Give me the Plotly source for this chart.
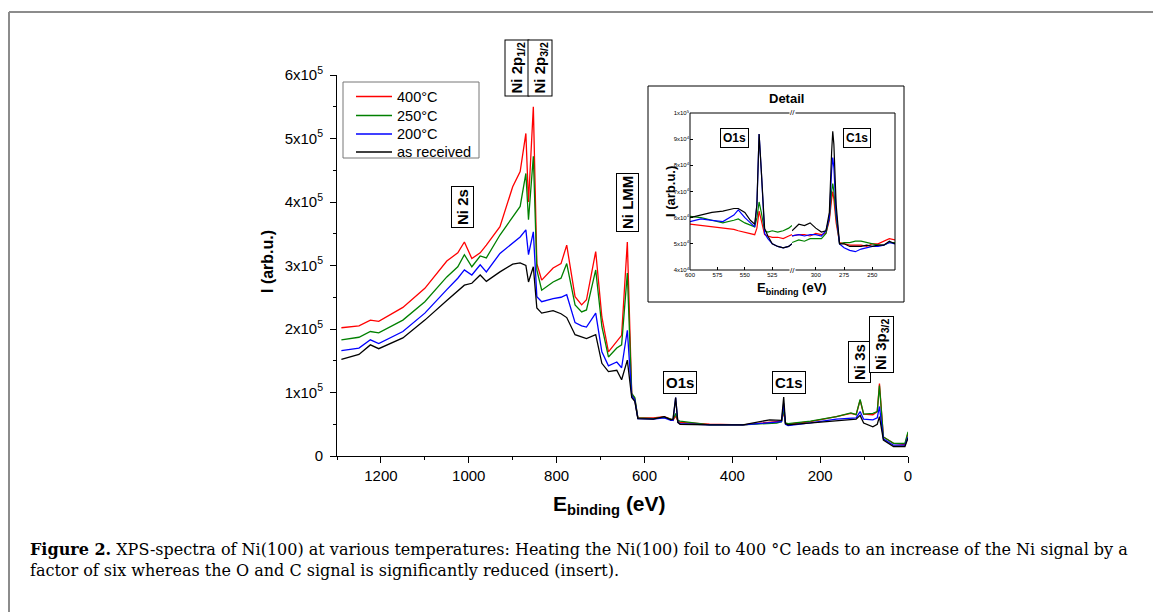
import plotly.graph_objects as go

# ---------------- data (main spectrum, intensity in units of 1e5) ----------------
energy_main = [1290, 1250, 1224, 1205, 1150, 1100, 1050, 1025, 1010, 993, 974, 960, 929, 900, 883,
               870, 864, 853, 845, 834, 808, 790, 777, 758, 743, 732, 711, 697, 682, 663, 652, 639,
               629, 622, 615, 580, 555, 540, 535, 529, 524, 519, 452, 376, 315, 299, 288, 283, 279,
               273, 222, 163, 130, 118, 109, 101, 80, 70, 65, 56, 33, 7, 0]
i_400 = [2.02, 2.05, 2.14, 2.12, 2.34, 2.64, 3.07, 3.2, 3.37, 3.11, 3.2, 3.32, 3.61, 4.24, 4.48,
         5.08, 4.0, 5.5, 3.03, 2.77, 2.96, 3.03, 3.32, 2.51, 2.38, 2.46, 3.22, 2.19, 1.64, 1.8, 1.9, 3.37,
         0.99, 0.9, 0.6, 0.6, 0.62, 0.58, 0.56, 0.63, 0.55, 0.53, 0.5, 0.49, 0.53, 0.54, 0.55, 0.7, 0.52,
         0.5, 0.54, 0.62, 0.67, 0.65, 0.88, 0.66, 0.65, 0.7, 1.14, 0.3, 0.2, 0.18, 0.36]
i_250 = [1.83, 1.87, 1.96, 1.94, 2.14, 2.43, 2.82, 2.98, 3.17, 2.98, 3.15, 3.12, 3.48, 3.77, 3.93,
         4.45, 3.72, 4.72, 2.93, 2.61, 2.74, 2.8, 3.03, 2.38, 2.27, 2.3, 2.93, 2.04, 1.56, 1.7, 1.75, 2.88,
         0.98, 0.92, 0.6, 0.59, 0.61, 0.58, 0.57, 0.67, 0.56, 0.55, 0.49, 0.49, 0.52, 0.52, 0.54, 0.73, 0.52,
         0.51, 0.55, 0.62, 0.68, 0.65, 0.89, 0.66, 0.67, 0.7, 1.11, 0.3, 0.2, 0.2, 0.38]
i_200 = [1.66, 1.7, 1.83, 1.77, 1.96, 2.25, 2.62, 2.8, 2.93, 2.85, 3.01, 2.9, 3.19, 3.35, 3.45,
         3.56, 3.17, 3.53, 2.51, 2.43, 2.48, 2.5, 2.54, 2.1, 2.05, 2.03, 2.25, 1.64, 1.42, 1.48, 1.39, 1.98,
         0.95, 0.88, 0.59, 0.58, 0.6, 0.56, 0.56, 0.92, 0.53, 0.51, 0.49, 0.49, 0.53, 0.54, 0.54, 0.83, 0.5,
         0.48, 0.52, 0.58, 0.6, 0.6, 0.7, 0.58, 0.57, 0.6, 0.78, 0.27, 0.17, 0.17, 0.3]
i_rec = [1.52, 1.6, 1.75, 1.69, 1.86, 2.14, 2.45, 2.6, 2.69, 2.72, 2.85, 2.75, 2.9, 3.02, 3.04,
         3.0, 2.74, 2.98, 2.33, 2.25, 2.29, 2.24, 2.18, 1.91, 1.87, 1.85, 1.91, 1.46, 1.33, 1.35, 1.2, 1.51,
         0.92, 0.86, 0.59, 0.58, 0.62, 0.57, 0.58, 0.92, 0.53, 0.5, 0.49, 0.49, 0.57, 0.56, 0.56, 0.93, 0.51,
         0.49, 0.52, 0.56, 0.57, 0.58, 0.64, 0.52, 0.46, 0.5, 0.62, 0.25, 0.15, 0.15, 0.28]

# ---------------- data (inset detail, intensity in units of 1e4) ----------------
energy_o = [600, 590, 580, 570, 560, 556, 550, 545, 541, 539, 537, 535, 532, 529, 525, 520, 515, 510, 507]
o_400 = [5.75, 5.7, 5.65, 5.6, 5.55, 5.5, 5.45, 5.4, 5.35, 5.6, 6.25, 5.9, 5.35, 5.3, 5.25, 5.25, 5.2, 5.3, 5.35]
o_250 = [6.05, 6.0, 5.9, 5.8, 5.9, 5.95, 5.8, 5.7, 5.65, 6.0, 6.6, 6.2, 5.5, 5.45, 5.5, 5.45, 5.5, 5.6, 5.7]
o_200 = [5.85, 5.95, 5.9, 5.85, 6.1, 6.3, 6.0, 5.8, 5.65, 6.5, 9.2, 7.8, 5.4, 5.2, 5.0, 4.9, 4.85, 4.9, 5.0]
o_rec = [6.0, 6.1, 6.2, 6.25, 6.35, 6.35, 6.2, 5.9, 5.75, 6.5, 9.2, 7.8, 5.6, 5.3, 5.0, 4.9, 4.85, 4.9, 5.0]

energy_c = [321, 315, 310, 305, 300, 295, 291, 288, 286, 285, 284, 282, 279, 275, 270, 265, 260, 255,
            250, 245, 240, 235, 230]
c_400 = [5.3, 5.35, 5.35, 5.3, 5.4, 5.35, 5.4, 5.9, 6.7, 7.0, 6.7, 5.8, 5.05, 5.0, 4.95, 4.95, 4.95, 4.9,
         5.0, 5.0, 5.1, 5.2, 5.15]
c_250 = [5.05, 5.15, 5.1, 5.2, 5.2, 5.2, 5.4, 6.0, 7.0, 7.3, 7.0, 6.0, 5.0, 5.05, 5.05, 5.1, 5.1, 5.05,
         5.0, 4.95, 4.95, 5.05, 5.05]
c_200 = [5.3, 5.35, 5.3, 5.35, 5.35, 5.3, 5.5, 6.0, 7.8, 8.3, 7.9, 6.2, 5.0, 4.85, 4.75, 4.7, 4.8, 4.85,
         4.9, 4.9, 4.95, 5.05, 5.0]
c_rec = [5.5, 5.75, 5.7, 5.8, 5.6, 5.45, 5.5, 6.2, 8.5, 9.3, 8.8, 6.5, 5.0, 5.0, 4.9, 4.9, 4.9, 4.95,
         4.9, 4.95, 4.95, 5.1, 5.0]

series_names = ["400°C", "250°C", "200°C", "as received"]
series_colors = ["#ff0000", "#008000", "#0000ff", "#000000"]
main_series = [i_400, i_250, i_200, i_rec]
o_series = [o_400, o_250, o_200, o_rec]
c_series = [c_400, c_250, c_200, c_rec]

main_xticks = [1200, 1000, 800, 600, 400, 200, 0]
main_yticks = [0, 1e5, 2e5, 3e5, 4e5, 5e5, 6e5]
main_yticktext = ["0", "1x10<sup>5</sup>", "2x10<sup>5</sup>", "3x10<sup>5</sup>",
                  "4x10<sup>5</sup>", "5x10<sup>5</sup>", "6x10<sup>5</sup>"]
inset_yticks = [4e4, 5e4, 6e4, 7e4, 8e4, 9e4, 1e5]
inset_yticktext = ["4x10<sup>4</sup>", "5x10<sup>4</sup>", "6x10<sup>4</sup>", "7x10<sup>4</sup>",
                   "8x10<sup>4</sup>", "9x10<sup>4</sup>", "1x10<sup>5</sup>"]

# ---------------- geometry helpers (pixels -> paper) ----------------
W, H = 1153, 612
L, R, T, B = 337, 908, 75, 456


def px(x):
    return (x - L) / (R - L)


def py(y):
    return (B - y) / (B - T)


FONT = "Arial, Liberation Sans, sans-serif"

fig = go.Figure()

for name, col, vals in zip(series_names, series_colors, main_series):
    fig.add_trace(go.Scatter(x=energy_main, y=[v * 1e5 for v in vals], mode="lines", name=name,
                             showlegend=False, line=dict(color=col, width=1.3), xaxis="x", yaxis="y"))

for col, vals in zip(series_colors, o_series):
    fig.add_trace(go.Scatter(x=energy_o, y=[v * 1e4 for v in vals], mode="lines", showlegend=False,
                             line=dict(color=col, width=1.2), xaxis="x3", yaxis="y3"))
for col, vals in zip(series_colors, c_series):
    fig.add_trace(go.Scatter(x=energy_c, y=[v * 1e4 for v in vals], mode="lines", showlegend=False,
                             line=dict(color=col, width=1.2), xaxis="x4", yaxis="y3"))

x_break = px(792)
inset_x0, inset_x1 = px(690), px(895)
inset_y0, inset_y1 = py(270), py(113)

fig.update_layout(
    width=W, height=H,
    margin=dict(l=L, r=W - R, t=T, b=H - B),
    paper_bgcolor="white", plot_bgcolor="white",
    font=dict(family=FONT, color="black"),
    showlegend=False,
    xaxis=dict(domain=[0, 1], range=[1300, 0], anchor="y", tickvals=main_xticks,
               ticks="outside", ticklen=6, tickwidth=1, tickcolor="black",
               minor=dict(dtick=100, ticks="outside", ticklen=3, tickcolor="black"),
               showline=True, linecolor="black", linewidth=1, showgrid=False, zeroline=False,
               tickfont=dict(size=15)),
    yaxis=dict(domain=[0, 1], range=[0, 6e5], anchor="x", tickvals=main_yticks,
               ticktext=main_yticktext, ticks="outside", ticklen=6, tickwidth=1, tickcolor="black",
               minor=dict(dtick=5e4, ticks="outside", ticklen=3, tickcolor="black"),
               showline=True, linecolor="black", linewidth=1, showgrid=False, zeroline=False,
               tickfont=dict(size=15), ticklabelstandoff=4),
    xaxis2=dict(overlaying="x", side="top", anchor="y", range=[1300, 0], dtick=100, tick0=0,
                ticks="inside", ticklen=5, tickcolor="black", showticklabels=False,
                showline=True, linecolor="black", linewidth=1, showgrid=False, zeroline=False),
    yaxis2=dict(overlaying="y", side="right", anchor="x", range=[0, 6e5], dtick=5e4, tick0=0,
                ticks="inside", ticklen=5, tickcolor="black", showticklabels=False,
                showline=True, linecolor="black", linewidth=1, showgrid=False, zeroline=False),
    xaxis3=dict(domain=[inset_x0, x_break], range=[600, 507], anchor="y3",
                tickvals=[600, 575, 550, 525], ticks="inside", ticklen=3, tickcolor="black",
                showgrid=False, zeroline=False, showline=False, tickfont=dict(size=6)),
    xaxis4=dict(domain=[x_break, inset_x1], range=[321, 230], anchor="y3",
                tickvals=[300, 275, 250], ticks="inside", ticklen=3, tickcolor="black",
                showgrid=False, zeroline=False, showline=False, tickfont=dict(size=6)),
    yaxis3=dict(domain=[inset_y0, inset_y1], range=[4e4, 1e5], anchor="x3",
                tickvals=inset_yticks, ticktext=inset_yticktext, ticks="inside", ticklen=3,
                tickcolor="black", showgrid=False, zeroline=False, showline=False,
                tickfont=dict(size=6)),
)

shapes = [
    # inset plot frame
    dict(type="rect", xref="paper", yref="paper", x0=inset_x0, x1=inset_x1, y0=inset_y0, y1=inset_y1,
         line=dict(color="black", width=1)),
    # inset outer box
    dict(type="rect", xref="paper", yref="paper", x0=px(648), x1=px(904), y0=py(302), y1=py(86),
         line=dict(color="black", width=1)),
    # legend box
    dict(type="rect", xref="paper", yref="paper", x0=px(343), x1=px(479), y0=py(158), y1=py(82),
         line=dict(color="#777777", width=1), fillcolor="white"),
    # page frame (gray)
    dict(type="line", xref="paper", yref="paper", x0=px(9), x1=px(1160), y0=py(12), y1=py(12),
         line=dict(color="#8c8c8c", width=2)),
    dict(type="line", xref="paper", yref="paper", x0=px(9), x1=px(9), y0=py(12), y1=py(620),
         line=dict(color="#8c8c8c", width=2)),
]

ann = []

# custom legend (line samples + labels)
legend_rows = [96.5, 115.5, 134, 152]
for name, col, yrow in zip(series_names, series_colors, legend_rows):
    shapes.append(dict(type="line", xref="paper", yref="paper", x0=px(356), x1=px(392),
                       y0=py(yrow), y1=py(yrow), line=dict(color=col, width=1.3)))
    ann.append(dict(text=name, x=px(395), y=py(yrow), xref="paper", yref="paper", showarrow=False,
                    font=dict(size=14.5, family=FONT), xanchor="left", yanchor="middle"))

fig.update_layout(shapes=shapes)


def box_label(text, x, y, size=15, angle=-90):
    ann.append(dict(text="<b>" + text + "</b>", x=px(x), y=py(y), xref="paper", yref="paper",
                    showarrow=False, textangle=angle, font=dict(size=size, family=FONT),
                    bordercolor="black", borderwidth=1, borderpad=2, bgcolor="white",
                    xanchor="center", yanchor="middle"))


box_label("Ni 2p<sub>1/2</sub>", 517.5, 68)
box_label("Ni 2p<sub>3/2</sub>", 540.5, 68)
box_label("Ni 2s", 462.5, 207.5)
box_label("Ni LMM", 627, 203)
box_label("O1s", 680, 382, angle=0)
box_label("C1s", 789, 382, angle=0)
box_label("Ni 3s", 859, 362)
box_label("Ni 3p<sub>3/2</sub>", 881, 345)
box_label("O1s", 734, 138, size=12, angle=0)
box_label("C1s", 857, 138, size=12, angle=0)

# axis titles
ann.append(dict(text="<b>E<sub>binding</sub> (eV)</b>", x=px(609), y=py(505), xref="paper", yref="paper",
                showarrow=False, font=dict(size=21, family=FONT), xanchor="center", yanchor="middle"))
ann.append(dict(text="<b>I (arb.u.)</b>", x=px(267), y=py(262), xref="paper", yref="paper",
                showarrow=False, textangle=-90, font=dict(size=16, family=FONT),
                xanchor="center", yanchor="middle"))
# inset titles
ann.append(dict(text="<b>Detail</b>", x=px(786), y=py(98), xref="paper", yref="paper",
                showarrow=False, font=dict(size=13, family=FONT), xanchor="center", yanchor="middle"))
ann.append(dict(text="<b>E<sub>binding</sub> (eV)</b>", x=px(792), y=py(288), xref="paper", yref="paper",
                showarrow=False, font=dict(size=13, family=FONT), xanchor="center", yanchor="middle"))
ann.append(dict(text="<b>I (arb.u.)</b>", x=px(670), y=py(192), xref="paper", yref="paper",
                showarrow=False, textangle=-90, font=dict(size=13, family=FONT),
                xanchor="center", yanchor="middle"))
# axis break marks
for yb in (inset_y0, inset_y1):
    ann.append(dict(text="//", x=x_break, y=yb, xref="paper", yref="paper", showarrow=False,
                    font=dict(size=8, family=FONT), xanchor="center", yanchor="middle",
                    bgcolor="white", borderpad=0))

# caption
ann.append(dict(text="<b>Figure 2.</b> XPS-spectra of Ni(100) at various temperatures: Heating the Ni(100) foil "
                     "to 400 °C leads to an increase of the Ni signal by a<br>factor of six whereas the O and C "
                     "signal is significantly reduced (insert).",
                x=px(28), y=py(538), xref="paper", yref="paper", showarrow=False, align="left",
                xanchor="left", yanchor="top",
                font=dict(size=16, family="DejaVu Serif, serif", color="black")))

fig.update_layout(annotations=ann)

fig.write_html("out.html")
